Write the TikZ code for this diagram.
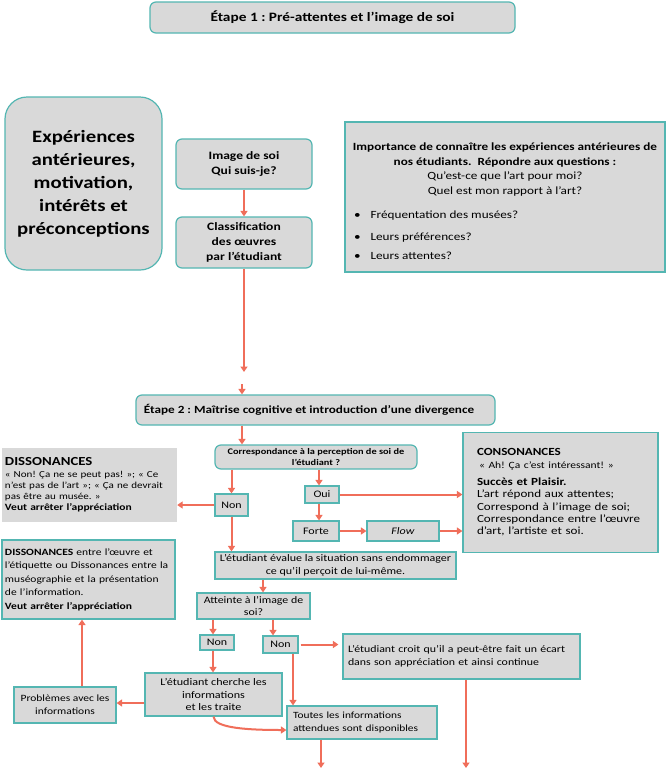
\documentclass[tikz,border=0pt]{standalone}
\usepackage{fontspec}
\setmainfont{Carlito}[FakeStretch=1.2]
\usetikzlibrary{arrows.meta}
\definecolor{boxfill}{RGB}{217,217,217}
\definecolor{tealb}{RGB}{84,182,178}
\definecolor{arrowc}{RGB}{240,110,90}
\frenchspacing
\begin{document}
\begin{tikzpicture}[x=1pt,y=-1pt,
  box/.style={draw=tealb, fill=boxfill, line width=1.2pt, inner sep=0pt, align=center,
    font=\fontsize{10}{13}\selectfont},
  rbox/.style={box, rounded corners=6pt},
  lbox/.style={box, align=left},
  arr/.style={draw=arrowc, line width=2pt, -{Triangle[length=5.5pt,width=7pt]}},
]
\fill[white] (0,0) rectangle (666,772);
\useasboundingbox (0,0) rectangle (666,772);

% Stage 1
\node[rbox, minimum width=365pt, minimum height=31pt, font=\bfseries\fontsize{12.8}{14}\selectfont] (et1) at (332.5,17.5) {Étape 1 : Pré-attentes et l’image de soi};

\node[box, rounded corners=22pt, minimum width=157pt, minimum height=173pt, font=\bfseries\fontsize{17.3}{23}\selectfont] (exp) at (83.5,183.5) {Expériences\\antérieures,\\motivation,\\intérêts et\\préconceptions};

\node[rbox, minimum width=136pt, minimum height=50pt, font=\bfseries\fontsize{11.3}{15}\selectfont] (img) at (244,164) {Image de soi\\Qui suis-je?};
\node[rbox, minimum width=136pt, minimum height=51pt, font=\bfseries\fontsize{11.3}{15}\selectfont] (cls) at (244,242.5) {Classification\\des œuvres\\par l’étudiant};

\node[box, minimum width=320pt, minimum height=150pt, font=\fontsize{11}{14.5}\selectfont] (imp) at (505,197) {\mbox{}\\[2pt]\textbf{Importance de connaître les expériences antérieures de}\\\textbf{nos étudiants.\ \ Répondre aux questions :}\\Qu’est-ce que l’art pour moi?\\Quel est mon rapport à l’art?\\[10pt]\makebox[302pt][l]{•\hspace{10pt}Fréquentation des musées?}\\[7pt]\makebox[302pt][l]{•\hspace{10pt}Leurs préférences?}\\[5pt]\makebox[302pt][l]{•\hspace{10pt}Leurs attentes?}};

% Stage 2
\node[rbox, minimum width=359pt, minimum height=30pt, font=\bfseries\fontsize{11}{14}\selectfont] (et2) at (315.5,410) {Étape 2 : Maîtrise cognitive et introduction d’une divergence\hspace*{13pt}};

\node[rbox, minimum width=202pt, minimum height=24pt, font=\bfseries\fontsize{8.6}{10.5}\selectfont] (corr) at (316,457) {Correspondance à la perception de soi de\\l’étudiant ?};

\node[box, minimum width=33pt, minimum height=22pt] (non1) at (231.5,505) {Non};
\node[box, minimum width=34pt, minimum height=17pt] (oui) at (322,494.5) {Oui};
\node[box, minimum width=46pt, minimum height=20pt] (forte) at (316,531) {Forte};
\node[box, minimum width=72pt, minimum height=20pt] (flow) at (403,531) {\textit{Flow}};

\node[lbox, text width=167pt, inner xsep=14pt, minimum width=195pt, minimum height=120pt, font=\fontsize{10.9}{12.3}\selectfont] (cons) at (560.5,492.5) {{\bfseries CONSONANCES}\\\hspace*{2pt}{\fontsize{9.6}{12}\selectfont « Ah! Ça c’est intéressant! »}\\[5pt]\textbf{Succès et Plaisir.}\\L’art répond aux attentes;\\Correspond à l’image de soi;\\Correspondance entre l’œuvre\\d’art, l’artiste et soi.\par\vspace{3pt}};

\node[fill=boxfill, inner ysep=0pt, inner xsep=3pt, text width=169pt, minimum width=175pt, minimum height=74pt, align=left, font=\fontsize{9.2}{11}\selectfont] (dis1) at (89.5,485) {{\fontsize{12.3}{12}\selectfont\bfseries DISSONANCES}\\[1pt]« Non! Ça ne se peut pas! »; « Ce\\n’est pas de l’art »; « Ça ne devrait\\pas être au musée. »\\{\fontsize{9.6}{11}\selectfont\bfseries Veut arrêter l’appréciation}};

\node[box, minimum width=241pt, minimum height=27pt, font=\fontsize{10}{13.5}\selectfont] (eval) at (335.5,565.5) {L’étudiant évalue la situation sans endommager\\ce qu’il perçoit de lui-même.};

\node[lbox, text width=167pt, inner xsep=3pt, minimum width=173pt, minimum height=79pt, font=\fontsize{9.6}{13.5}\selectfont] (dis2) at (88.5,579.5) {\textbf{DISSONANCES} entre l’œuvre et\\l’étiquette ou Dissonances entre la\\muséographie et la présentation\\de l’information.\\\textbf{Veut arrêter l’appréciation}};

\node[box, minimum width=113pt, minimum height=26pt, font=\fontsize{9.9}{12.5}\selectfont] (att) at (253.5,606) {Atteinte à l’image de\\soi?};

\node[box, minimum width=34pt, minimum height=15pt] (non2) at (217,642.5) {Non};
\node[box, minimum width=35pt, minimum height=17pt] (non3) at (280.5,644.5) {Non};

\node[lbox, text width=227pt, inner xsep=5pt, minimum width=237pt, minimum height=45pt, font=\fontsize{9.9}{13.5}\selectfont] (croit) at (461.5,656.5) {L’étudiant croit qu’il a peut-être fait un écart\\dans son appréciation et ainsi continue};

\node[box, minimum width=137pt, minimum height=43pt, font=\fontsize{10.1}{12.8}\selectfont] (cher) at (213.5,694.5) {L’étudiant cherche les\\informations\\et les traite};

\node[box, minimum width=102pt, minimum height=36pt, font=\fontsize{9.6}{13}\selectfont] (prob) at (65,705) {Problèmes avec les\\informations};

\node[lbox, text width=138pt, inner xsep=6pt, minimum width=150pt, minimum height=33pt, font=\fontsize{9.5}{13}\selectfont] (tout) at (362,722.5) {Toutes les informations\\attendues sont disponibles};

% connectors
\draw[arr] (img.south) -- (cls.north);
\coordinate (g1) at (244,372);
\draw[arr] (cls.south) -- (g1);
\coordinate (g2) at (242,384);
\draw[arr] (g2) -- (g2 |- et2.north);
\draw[arr] (et2.south -| g2) -- (corr.north -| g2);
\draw[arr] (corr.south -| non1) -- (non1.north);
\draw[arr] (non1.west) -- (non1.west -| dis1.east);
\coordinate (ox) at (319,0);
\draw[arr] (corr.south -| ox) -- (oui.north -| ox);
\draw[arr] (oui.east) -- (oui.east -| cons.west);
\draw[arr] (oui.south -| ox) -- (forte.north -| ox);
\draw[arr] (forte.east) -- (flow.west);
\draw[arr] (flow.east) -- (flow.east -| cons.west);
\draw[arr] (non1.south) -- (eval.north -| non1);
\coordinate (ax) at (263,0);
\draw[arr] (eval.south -| ax) -- (att.north -| ax);
\coordinate (bx) at (213,0);
\draw[arr] (att.south -| bx) -- (non2.north -| bx);
\coordinate (cx) at (273,0);
\draw[arr] (att.south -| cx) -- (non3.north -| cx);
\draw[arr, shorten <=2pt, shorten >=4pt] (non3.east) -- (non3.east -| croit.west);
\draw[arr] (non2.south -| bx) -- (cher.north -| bx);
\coordinate (py) at (0,703);
\draw[arr] (cher.west |- py) -- (prob.east |- py);
\coordinate (qx) at (82,0);
\draw[arr] (prob.north -| qx) -- (dis2.south -| qx);
\coordinate (rx) at (293,0);
\draw[arr] (non3.south -| rx) -- (tout.north -| rx);
\draw[arr] (cher.south) .. controls +(0,12) and +(-35,0) .. ([yshift=-7.5pt]tout.west);
\coordinate (e1) at (321,768);
\draw[arr] (tout.south -| e1) -- (e1);
\coordinate (e2) at (466,768);
\draw[arr] (croit.south -| e2) -- (e2);
\end{tikzpicture}
\end{document}
